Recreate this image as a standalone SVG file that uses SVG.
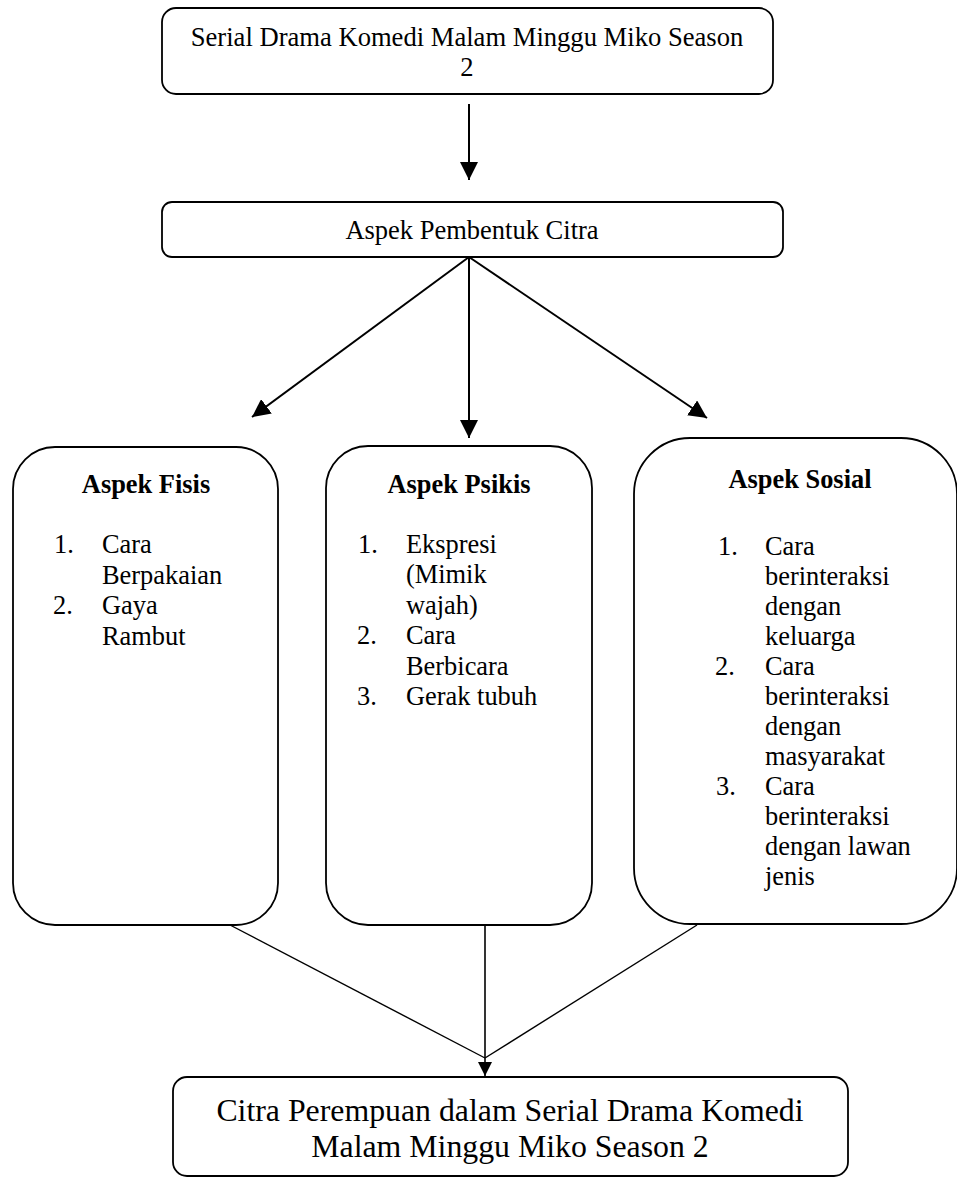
<svg xmlns="http://www.w3.org/2000/svg" width="957" height="1178" viewBox="0 0 957 1178">
<style>
.box{fill:#fff;stroke:#000;stroke-width:1.8}
.t{font-family:"Liberation Serif","Times New Roman",serif;fill:#000}
.c{text-anchor:middle}
.b{font-weight:bold}
.con{stroke:#000;fill:none}
</style>
<defs>
<marker id="ah" viewBox="0 0 18 18" refX="18" refY="9" markerWidth="18" markerHeight="18" orient="auto" markerUnits="userSpaceOnUse"><path d="M0,0 L18,9 L0,18 z" fill="#000"/></marker>
<marker id="ah2" viewBox="0 0 14 14" refX="14" refY="7" markerWidth="14" markerHeight="14" orient="auto" markerUnits="userSpaceOnUse"><path d="M0,0 L14,7 L0,14 z" fill="#000"/></marker>
</defs>
<rect width="957" height="1178" fill="#fff"/>
<g id="connectors">
<line class="con" x1="469" y1="104" x2="469" y2="180" stroke-width="2" marker-end="url(#ah)"/>
<line class="con" x1="469" y1="257" x2="252" y2="417" stroke-width="2" marker-end="url(#ah)"/>
<line class="con" x1="469" y1="257" x2="469" y2="438" stroke-width="2" marker-end="url(#ah)"/>
<line class="con" x1="469" y1="257" x2="707" y2="418" stroke-width="2" marker-end="url(#ah)"/>
<line class="con" x1="230" y1="925" x2="485" y2="1058" stroke-width="1.4"/>
<line class="con" x1="697" y1="925" x2="485" y2="1058" stroke-width="1.4"/>
<line class="con" x1="485" y1="925" x2="485" y2="1076" stroke-width="1.6" marker-end="url(#ah2)"/>
</g>
<g id="n-serial">
<rect class="box" x="162" y="8" width="611" height="86" rx="14"/>
<text class="t c" x="467" y="46" font-size="26.6">Serial Drama Komedi Malam Minggu Miko Season</text>
<text class="t c" x="467" y="76" font-size="26.6">2</text>
</g>
<g id="n-aspek">
<rect class="box" x="162" y="202" width="621" height="55" rx="10"/>
<text class="t c" x="472" y="239" font-size="26.5">Aspek Pembentuk Citra</text>
</g>
<g id="n-fisis">
<rect class="box" x="13" y="447" width="265" height="478" rx="42"/>
<text class="t c b" x="146" y="493" font-size="26.4">Aspek Fisis</text>
<g class="t" font-size="26.4">
<text x="54" y="553">1.</text><text x="102" y="553">Cara</text>
<text x="102" y="584">Berpakaian</text>
<text x="53" y="614">2.</text><text x="102" y="614">Gaya</text>
<text x="102" y="645">Rambut</text>
</g>
</g>
<g id="n-psikis">
<rect class="box" x="326" y="446" width="266" height="479" rx="42"/>
<text class="t c b" x="459" y="493" font-size="26.4">Aspek Psikis</text>
<g class="t" font-size="26.4">
<text x="358" y="553">1.</text><text x="406" y="553">Ekspresi</text>
<text x="406" y="583">(Mimik</text>
<text x="406" y="614">wajah)</text>
<text x="357" y="644">2.</text><text x="406" y="644">Cara</text>
<text x="406" y="675">Berbicara</text>
<text x="357" y="705">3.</text><text x="406" y="705">Gerak tubuh</text>
</g>
</g>
<g id="n-sosial">
<rect class="box" x="634" y="438" width="323" height="486" rx="56"/>
<text class="t c b" x="800" y="488" font-size="26.4">Aspek Sosial</text>
<g class="t" font-size="26.4">
<text x="718" y="555">1.</text><text x="765" y="555">Cara</text>
<text x="765" y="585">berinteraksi</text>
<text x="765" y="615">dengan</text>
<text x="765" y="645">keluarga</text>
<text x="715" y="675">2.</text><text x="765" y="675">Cara</text>
<text x="765" y="705">berinteraksi</text>
<text x="765" y="735">dengan</text>
<text x="765" y="765">masyarakat</text>
<text x="716" y="795">3.</text><text x="765" y="795">Cara</text>
<text x="765" y="825">berinteraksi</text>
<text x="765" y="855">dengan lawan</text>
<text x="765" y="885">jenis</text>
</g>
</g>
<g id="n-citra">
<rect class="box" x="173" y="1077" width="675" height="99" rx="14"/>
<text class="t c" x="510" y="1121" font-size="31.8">Citra Perempuan dalam Serial Drama Komedi</text>
<text class="t c" x="510" y="1157" font-size="31.8">Malam Minggu Miko Season 2</text>
</g>
</svg>
